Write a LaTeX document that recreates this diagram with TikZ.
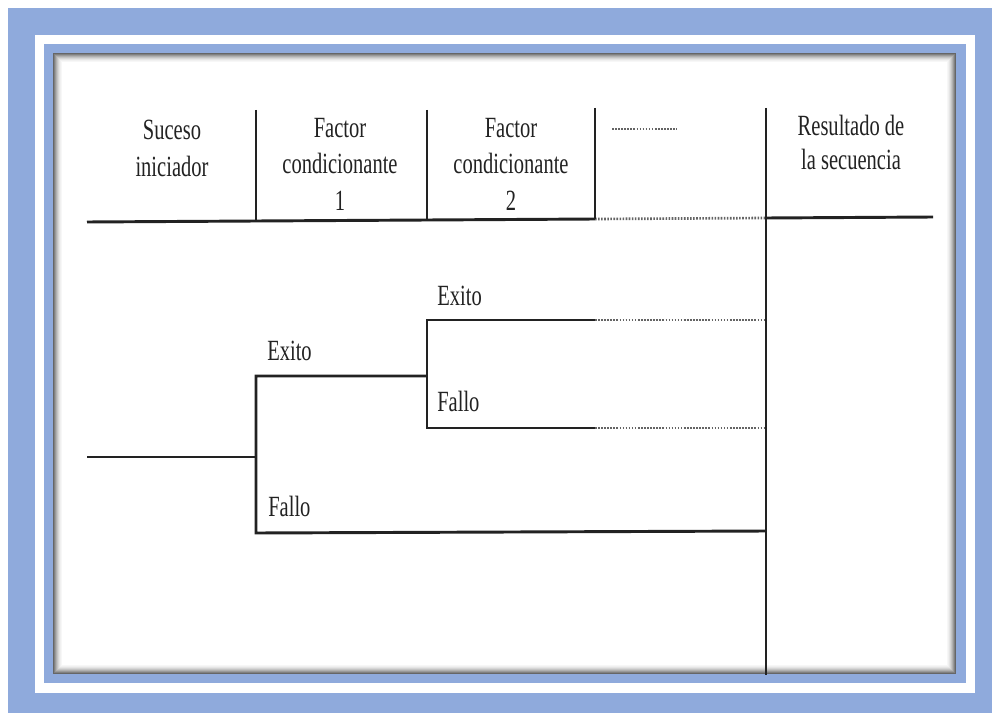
\documentclass[tikz,border=0pt]{standalone}
\usepackage{graphicx}
\usepackage{fontspec}
\setmainfont{Liberation Serif}
\definecolor{frameblue}{HTML}{8FAADC}
\definecolor{ink}{HTML}{222222}
\newcommand\sq[1]{\scalebox{0.70}[1]{#1}}
\begin{document}
\begin{tikzpicture}[x=0.75pt,y=-0.75pt,
  lbl/.style={inner sep=0pt,anchor=base,font=\fontsize{22}{27}\selectfont,text=ink},
  lblw/.style={lbl,anchor=base west},
  solidln/.style={draw=ink,line width=2.2pt},
  dotln/.style={draw=ink!70,line width=2pt,dash pattern=on 1.2pt off 1.1pt}]
\useasboundingbox (0,0) rectangle (992,713);
% frame
\fill[white] (0,0) rectangle (992,713);
\fill[frameblue] (8,8) rectangle (992,713);
\fill[white] (35,35) rectangle (975,693);
\fill[frameblue] (44,44) rectangle (966,683);
\fill[white] (53,53) rectangle (956,674);
\foreach \i/\g in {0/60,1/50,2/40,3/31,4/23,5/16,6/10,7/6,8/3}{
  \draw[black!\g,line width=0.75pt] (53.5+\i,53.5+\i) rectangle (955.5-\i,673.5-\i);
}
% coordinates
\coordinate (hl) at (87,222);
\coordinate (h1) at (256,221);
\coordinate (h2) at (427,220);
\coordinate (h3) at (595,219);
\coordinate (h4) at (766,218);
\coordinate (hr) at (933,217);
\coordinate (v1t) at (256,110);
\coordinate (v2t) at (427,110);
\coordinate (v3t) at (595,108);
\coordinate (v4t) at (766,108);
\coordinate (v4b) at (766,675);
% header
\draw[solidln] (hl) -- (h1) -- (h2) -- (h3);
\draw[dotln] (h3) -- (h4);
\draw[solidln] (h4) -- (hr);
\draw[solidln] (v1t) -- (h1);
\draw[solidln] (v2t) -- (h2);
\draw[solidln] (v3t) -- (h3);
\draw[solidln] (v4t) -- (v4b);
\node[lbl] (s1) at (172,140) {\sq{Suceso}};
\node[lbl] (s2) at (172,176) {\sq{iniciador}};
\node[lbl] (a1) at (340,138) {\sq{Factor}};
\node[lbl] (a2) at (340,174) {\sq{condicionante}};
\node[lbl] (a3) at (340,210) {\sq{1}};
\node[lbl] (b1) at (511,138) {\sq{Factor}};
\node[lbl] (b2) at (511,174) {\sq{condicionante}};
\node[lbl] (b3) at (511,210) {\sq{2}};
\node[lbl] (r1) at (851,136) {\sq{Resultado de}};
\node[lbl] (r2) at (851,170) {\sq{la secuencia}};
\coordinate (d1) at (612,129);
\coordinate (d2) at (677,129);
\draw[dotln] (d1) -- (d2);
% tree
\coordinate (t0) at (87,457);
\coordinate (t1) at (256,457);
\coordinate (e1) at (256,376);
\coordinate (f1) at (256,533);
\coordinate (e1r) at (427,376);
\coordinate (e2) at (427,320);
\coordinate (f2) at (427,428);
\coordinate (e2m) at (595,320);
\coordinate (f2m) at (595,428);
\coordinate (e2r) at (766,320);
\coordinate (f2r) at (766,428);
\coordinate (f1r) at (766,531);
\draw[solidln] (t0) -- (t1);
\draw[solidln] (e1r) -- (e1) -- (f1) -- (f1r);
\draw[solidln] (e2m) -- (e2) -- (f2) -- (f2m);
\draw[dotln] (e2m) -- (e2r);
\draw[dotln] (f2m) -- (f2r);
\node[lblw] (x1) at (267,360) {\sq{Exito}};
\node[lblw] (x2) at (437,305) {\sq{Exito}};
\node[lblw] (y2) at (437,411) {\sq{Fallo}};
\node[lblw] (y1) at (268,516) {\sq{Fallo}};
\end{tikzpicture}
\end{document}
